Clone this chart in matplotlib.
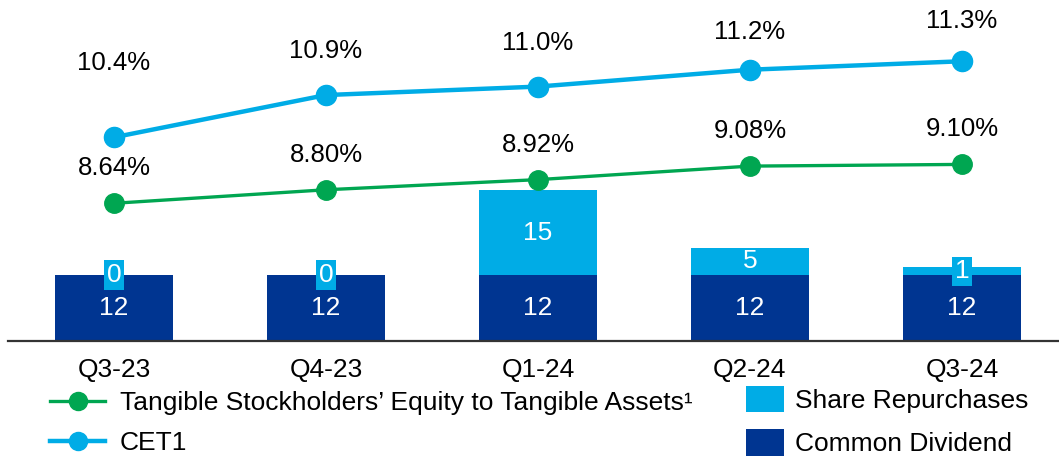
import matplotlib
matplotlib.use('Agg')
import matplotlib.pyplot as plt
from matplotlib.lines import Line2D
from matplotlib.patches import Patch

# --- data ---
quarters = ['Q3-23', 'Q4-23', 'Q1-24', 'Q2-24', 'Q3-24']
common_dividend = [12, 12, 12, 12, 12]
share_repurchases = [0, 0, 15.4, 5, 1.4]
cet1 = [10.4, 10.9, 11.0, 11.2, 11.3]
tce_ratio = [8.64, 8.80, 8.92, 9.08, 9.10]
cet1_labels = ['10.4%', '10.9%', '11.0%', '11.2%', '11.3%']
tce_labels = ['8.64%', '8.80%', '8.92%', '9.08%', '9.10%']

DARK = '#003591'
LIGHT = '#00ACE6'
GREEN = '#00A651'
FS = 19

plt.rcParams['font.family'] = ['Liberation Sans', 'DejaVu Sans']

W, H = 1059, 457
fig = plt.figure(figsize=(W / 100, H / 100), dpi=100)
ax = fig.add_axes([8 / W, (H - 341) / H, 1 - 8 / W, 341 / H])

x = list(range(len(quarters)))
bw = 0.557
ax.bar(x, common_dividend, bw, color=DARK, zorder=2)
ax.bar(x, share_repurchases, bw, bottom=common_dividend, color=LIGHT, zorder=2)

for i in x:
    ax.text(i, common_dividend[i] / 2, f"{common_dividend[i]:.0f}", ha='center', va='center',
            color='white', fontsize=FS, zorder=5)
    r = share_repurchases[i]
    yc = common_dividend[i] + r / 2
    if r < 3:
        # small segment -> label sits on a little box
        ax.text(i, yc, f"{r:.0f}", ha='center', va='center', color='white', fontsize=FS, zorder=5,
                bbox=dict(boxstyle='square,pad=0.1', facecolor=LIGHT, edgecolor='none'))
    else:
        ax.text(i, yc, f"{r:.0f}", ha='center', va='center', color='white', fontsize=FS, zorder=5)

ax.set_xlim(-0.5, 4.458)
ax.set_ylim(0, 62)
ax.set_xticks(x)
ax.set_xticklabels(quarters, fontsize=FS)
ax.tick_params(axis='x', length=0, pad=12)
ax.set_yticks([])
for s in ['top', 'right', 'left']:
    ax.spines[s].set_visible(False)
ax.spines['bottom'].set_color('#333333')
ax.spines['bottom'].set_linewidth(1.6)

# CET1 line
ax_c = ax.twinx()
ax_c.plot(x, cet1, color=LIGHT, lw=3.2, marker='o', ms=14.5, zorder=4)
ax_c.set_ylim(7.989, 12.025)
cet1_offsets = [74, 44, 44, 38, 40]  # label height above marker, px
for i in x:
    ax_c.annotate(cet1_labels[i], (i, cet1[i]), xytext=(0, cet1_offsets[i] * 0.72),
                  textcoords='offset points', ha='center', va='center', fontsize=18.5)

# TCE line
ax_t = ax.twinx()
ax_t.plot(x, tce_ratio, color=GREEN, lw=2.4, marker='o', ms=14, zorder=4)
ax_t.set_ylim(7.010, 11.046)
for i in x:
    ax_t.annotate(tce_labels[i], (i, tce_ratio[i]), xytext=(0, 35 * 0.72),
                  textcoords='offset points', ha='center', va='center', fontsize=18.5)

for a in (ax_c, ax_t):
    a.set_yticks([])
    for s in a.spines.values():
        s.set_visible(False)

# legends
h_lines = [Line2D([], [], color=GREEN, lw=2.4, marker='o', ms=13),
           Line2D([], [], color=LIGHT, lw=3.2, marker='o', ms=13)]
fig.legend(h_lines, ['Tangible Stockholders\u2019 Equity to Tangible Assets\u00b9', 'CET1'],
           loc='upper left', bbox_to_anchor=(50 / W, 1 - 391 / H), frameon=False,
           fontsize=FS, handlelength=2.1, handletextpad=0.55, labelspacing=0.62,
           borderaxespad=0, borderpad=0)
h_bars = [Patch(facecolor=LIGHT), Patch(facecolor=DARK)]
fig.legend(h_bars, ['Share Repurchases', 'Common Dividend'],
           loc='upper left', bbox_to_anchor=(746 / W, 1 - 386 / H), frameon=False,
           fontsize=FS, handlelength=1.45, handleheight=1.15, handletextpad=0.4,
           labelspacing=0.62, borderaxespad=0, borderpad=0)

fig.savefig('out.png', dpi=100)
